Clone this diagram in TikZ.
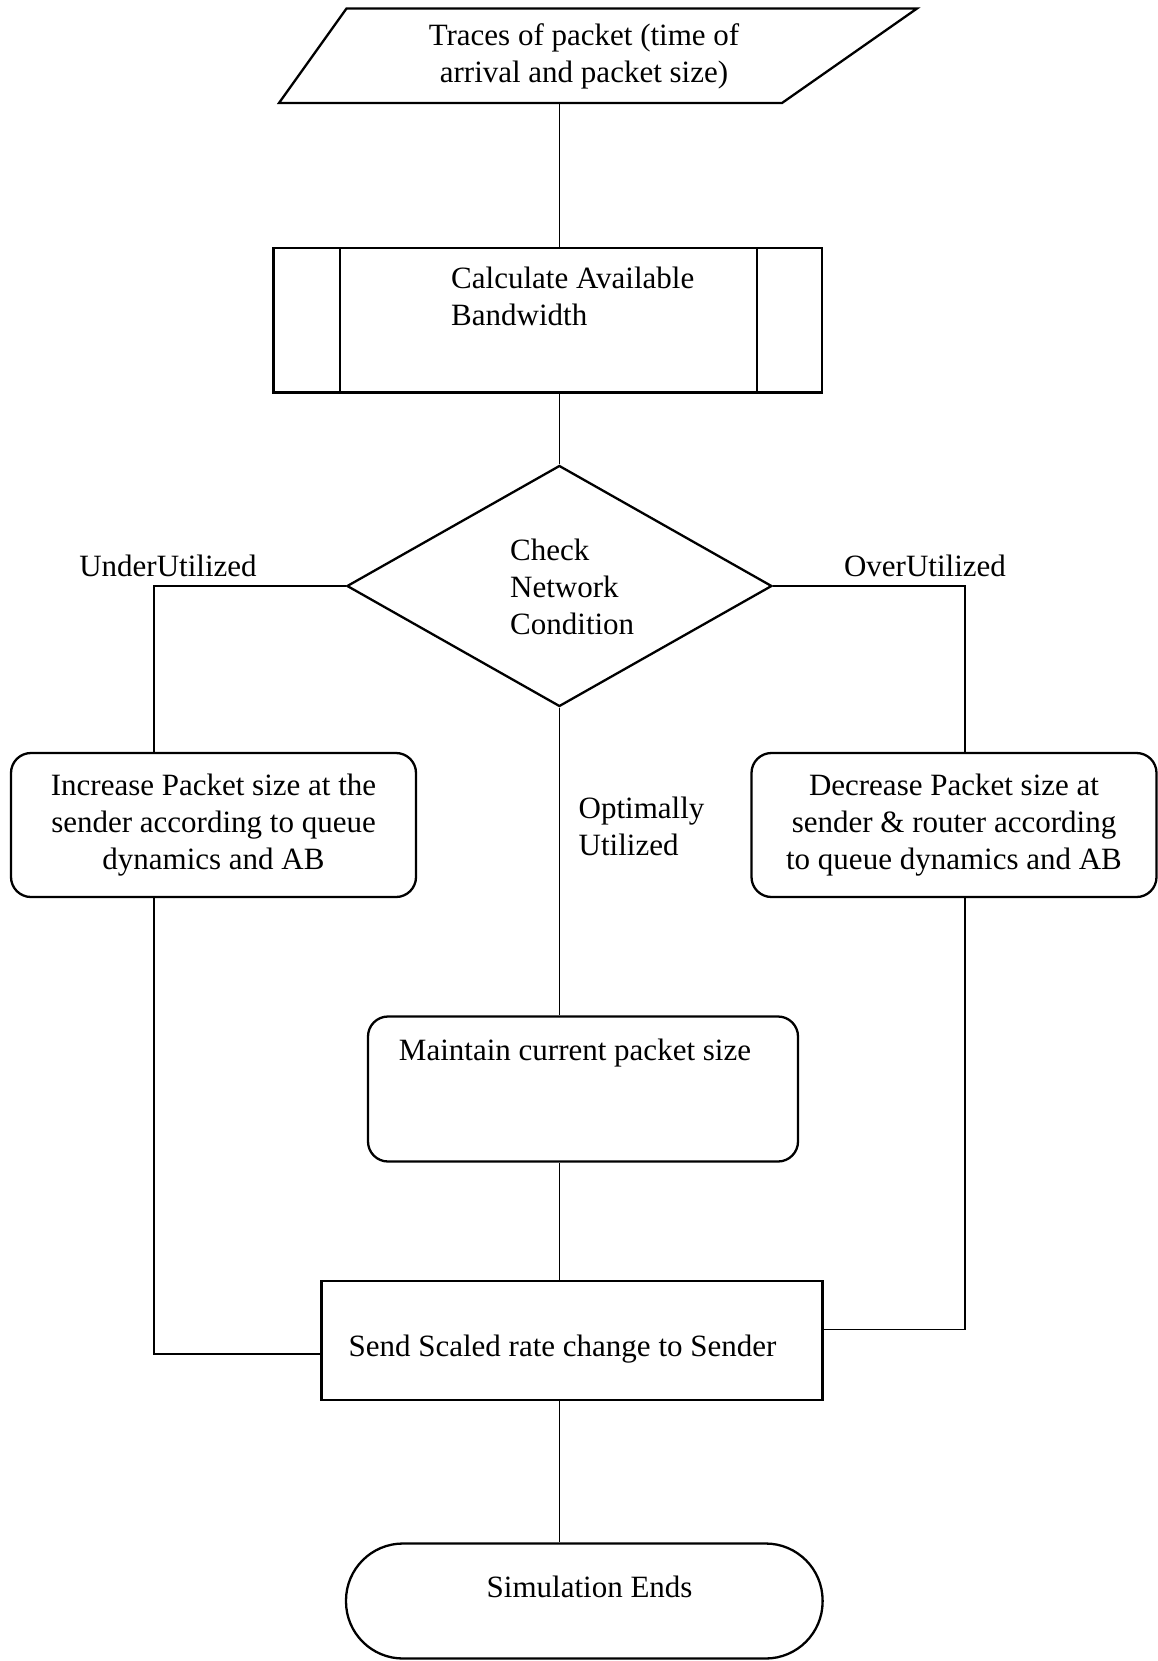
\documentclass[tikz,border=0pt]{standalone}
\usepackage{fontspec}
\setmainfont{Liberation Serif}
\usetikzlibrary{shapes.geometric,calc}

\tikzset{
  txt/.style={font=\fontsize{31}{37}\selectfont, inner sep=0pt},
  outline/.style={draw=black, line width=2.3pt, line join=miter},
  boxnode/.style={outline, rectangle, inner sep=0pt},
  roundbox/.style={outline, rectangle, rounded corners=20pt, inner sep=0pt},
  terminal/.style={outline, rectangle, rounded corners=57pt, inner sep=0pt},
  decision/.style={outline, diamond, inner sep=0pt},
  wire/.style={draw=black, line width=1.8pt}
}

\begin{document}
\begin{tikzpicture}[x=1pt, y=-1pt]
  \useasboundingbox (0,0) rectangle (1158,1661);
  \fill[white] (0,0) rectangle (1158,1661);

  % guide coordinates for the vertical runs
  \coordinate (trunk) at (559.4,0);
  \coordinate (lx) at (153.7,0);
  \coordinate (rx) at (965,0);

  % input: packet traces (slanted input box)
  \draw[outline] (346.5,8.5) -- (917,8.5) -- (782,103) -- (279,103) -- cycle;
  \node[txt, align=center] (in) at (584,56) {Traces of packet (time of\\arrival and packet size)};
  \coordinate (inb) at (559.4,103);

  % predefined process: available bandwidth
  \node[boxnode, minimum width=548.6pt, minimum height=144.5pt] (calc) at (547.7,320.2) {};
  \draw[outline] (340,248) -- (340,392.5);
  \draw[outline] (757,248) -- (757,392.5);
  \node[txt, align=left, anchor=west] (calct) at (451,296) {Calculate Available\\Bandwidth};

  % decision
  \node[decision, minimum width=425pt, minimum height=241pt] (dec) at (559.4,586) {};
  \node[txt, align=left, anchor=west] (dect) at (510,587) {Check\\Network\\Condition};

  % branch labels
  \node[txt] (under) at (168,566) {UnderUtilized};
  \node[txt] (over) at (925,566) {OverUtilized};
  \node[txt, align=left, anchor=west] (opt) at (578.5,826) {Optimally\\Utilized};

  % actions
  \node[roundbox, minimum width=405pt, minimum height=144pt, align=center, font=\fontsize{31}{37}\selectfont]
    (inc) at (213.5,825) {Increase Packet size at the\\sender according to queue\\dynamics and AB};
  \node[roundbox, minimum width=405pt, minimum height=144pt, align=center, font=\fontsize{31}{37}\selectfont]
    (decr) at (954,825) {Decrease Packet size at\\sender \& router according\\to queue dynamics and AB};
  \node[roundbox, minimum width=430pt, minimum height=145pt] (keep) at (583,1089) {};
  \node[txt] (keept) at (575,1053) {Maintain current packet size};

  \node[boxnode, minimum width=501pt, minimum height=119pt] (send) at (572,1340.5) {};
  \node[txt] (sendt) at (562.5,1349) {Send Scaled rate change to Sender};

  \node[terminal, minimum width=476.6pt, minimum height=115pt] (end) at (584.3,1601) {};
  \node[txt] (endt) at (589.6,1587) {Simulation Ends};

  % connectors
  \draw[wire] (inb) -- (calc.north -| trunk);
  \draw[wire] (calc.south -| trunk) -- (dec.north);
  \draw[wire] (dec.west) -| (inc.north -| lx);
  \draw[wire] (dec.east) -| (decr.north -| rx);
  \draw[wire] (dec.south) -- (keep.north -| trunk);
  \draw[wire] (keep.south -| trunk) -- (send.north -| trunk);
  \draw[wire] (inc.south -| lx) |- ([yshift=-13.5pt]send.west);
  \draw[wire] (decr.south -| rx) |- ([yshift=11pt]send.east);
  \draw[wire] (send.south -| trunk) -- (end.north -| trunk);
\end{tikzpicture}
\end{document}
